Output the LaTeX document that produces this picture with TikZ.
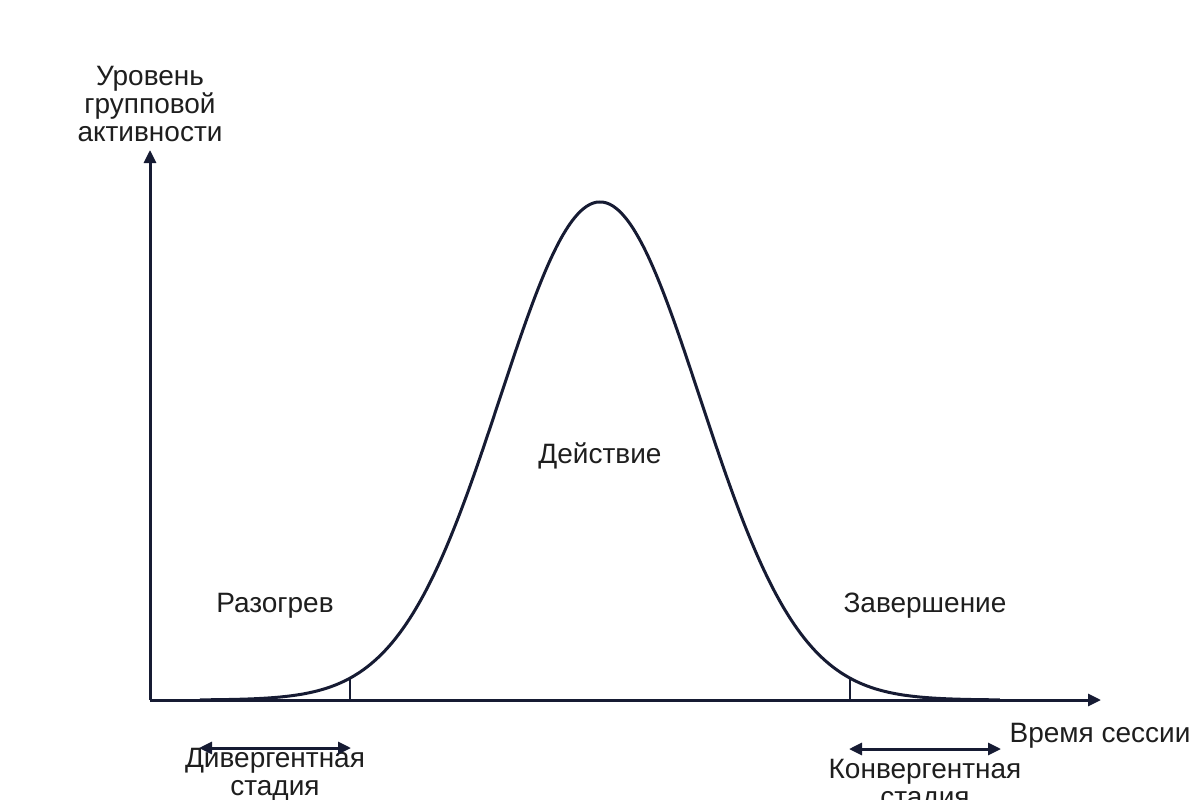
\documentclass[tikz,border=0pt]{standalone}
\usepackage{fontspec}
\setmainfont{Liberation Sans}
\usetikzlibrary{arrows.meta}
\definecolor{lc}{HTML}{161B33}
\definecolor{tc}{HTML}{1E1E1E}
\tikzset{
  axisline/.style={draw=lc, line width=3pt, -{Triangle[length=13pt,width=12pt]}},
  curveline/.style={draw=lc, line width=3pt},
  tickline/.style={draw=lc, line width=1.2pt},
  stagearrow/.style={draw=lc, line width=3pt, {Triangle[length=13pt,width=12pt]}-{Triangle[length=13pt,width=12pt]}},
  lbl/.style={text=tc, font=\fontsize{28pt}{28pt}\selectfont, align=center, inner sep=0pt},
}
\begin{document}
\begin{tikzpicture}[x=1pt,y=-1pt]
\useasboundingbox (0,0) rectangle (1200,800);
\coordinate (O) at (150,700);
\coordinate (Ytip) at (150,150);
\coordinate (Xtip) at (1101,700);
\coordinate (t1top) at (350,678);
\coordinate (t1bot) at (350,700);
\coordinate (t2top) at (850,678);
\coordinate (t2bot) at (850,700);
\coordinate (d1) at (199,748);
\coordinate (d2) at (351,748);
\coordinate (k1) at (849,749);
\coordinate (k2) at (1001,749);

\draw[axisline] (O) -- (Ytip);
\draw[axisline] (O) -- (Xtip);
\draw[curveline] plot[domain=-4:4, samples=241, smooth] ({600+100*\x},{700-498*exp(-(\x)*(\x)/2)});
\draw[tickline] (t1bot) -- (t1top);
\draw[tickline] (t2bot) -- (t2top);

\node[lbl] (ylab) at (150,104) {Уровень\\группoвой\\активности};
\node[lbl] (xlab) at (1100,736) {Время сессии};
\node[lbl] (act) at (600,456) {Действие};
\node[lbl] (warm) at (275,606) {Разогрев};
\node[lbl] (fin) at (925,606) {Завершение};
\node[lbl] (div) at (275,775) {Дивергентная\\стадия};
\node[lbl] (conv) at (925,786) {Конвергентная\\стадия};

\draw[stagearrow] (d1) -- (d2);
\draw[stagearrow] (k1) -- (k2);
\end{tikzpicture}
\end{document}
